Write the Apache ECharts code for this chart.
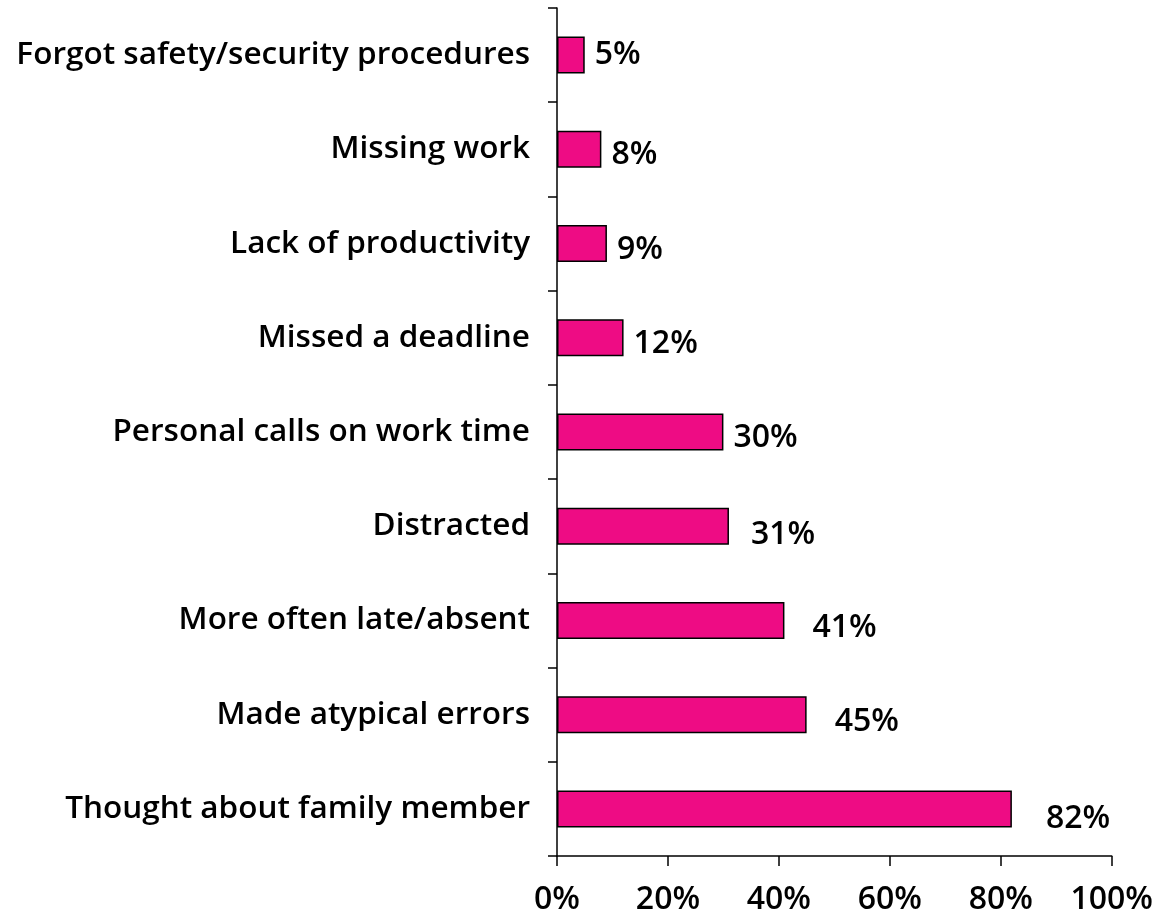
<!DOCTYPE html>
<html>
<head>
<meta charset="utf-8">
<script src="https://cdn.jsdelivr.net/npm/echarts@6/dist/echarts.min.js"></script>
<style>
html,body{margin:0;padding:0;background:#fff;}
#main{width:1156px;height:918px;}
</style>
</head>
<body>
<div id="main"></div>
<script>
// Data (bottom to top)
const categories = [
  "Thought about family member",
  "Made atypical errors",
  "More often late/absent",
  "Distracted",
  "Personal calls on work time",
  "Missed a deadline",
  "Lack of productivity",
  "Missing work",
  "Forgot safety/security procedures"
];
const values = [82, 45, 41, 31, 30, 12, 9, 8, 5];
const xTicks = [0, 20, 40, 60, 80, 100];

// label placement styling (x, y offsets in px), matching reference quirks
const labelOffsets = [[30, 10], [24, 7], [24, 7], [18, 9], [6, 6], [6, 6], [6, 6], [6, 6], [6, 0]];

const FONT = "'Open Sans', 'Liberation Sans', sans-serif";
const FS = 32;

const chart = echarts.init(document.getElementById('main'), null, {renderer: 'canvas'});
chart.setOption({
  animation: false,
  backgroundColor: '#ffffff',
  grid: {left: 557, right: 43, top: 8, bottom: 62, containLabel: false},
  xAxis: {
    type: 'value',
    min: xTicks[0], max: xTicks[xTicks.length - 1], interval: xTicks[1] - xTicks[0],
    axisLine: {show: true, lineStyle: {color: '#000', width: 1.5}},
    axisTick: {show: true, length: 10, lineStyle: {color: '#000', width: 1.5}},
    splitLine: {show: false},
    axisLabel: {
      margin: 28,
      formatter: v => v + '%',
      color: '#000', fontSize: FS, fontWeight: 600, fontFamily: FONT
    }
  },
  yAxis: {
    type: 'category',
    data: categories,
    axisLine: {show: true, lineStyle: {color: '#000', width: 1.5}},
    axisTick: {show: true, length: 9, lineStyle: {color: '#000', width: 1.5}},
    axisLabel: {
      margin: 27,
      color: '#000', fontSize: 31.5, fontWeight: 600, fontFamily: FONT
    }
  },
  series: [{
    type: 'bar',
    barWidth: 37,
    data: values.map((v, i) => ({
      value: v,
      label: {offset: labelOffsets[i]}
    })),
    itemStyle: {color: '#EE0C84', borderColor: '#000', borderWidth: 1.5},
    label: {
      show: true,
      position: 'right',
      distance: 4,
      formatter: p => p.value + '%',
      color: '#000', fontSize: FS, fontWeight: 600, fontFamily: FONT
    }
  }]
});
</script>
</body>
</html>
